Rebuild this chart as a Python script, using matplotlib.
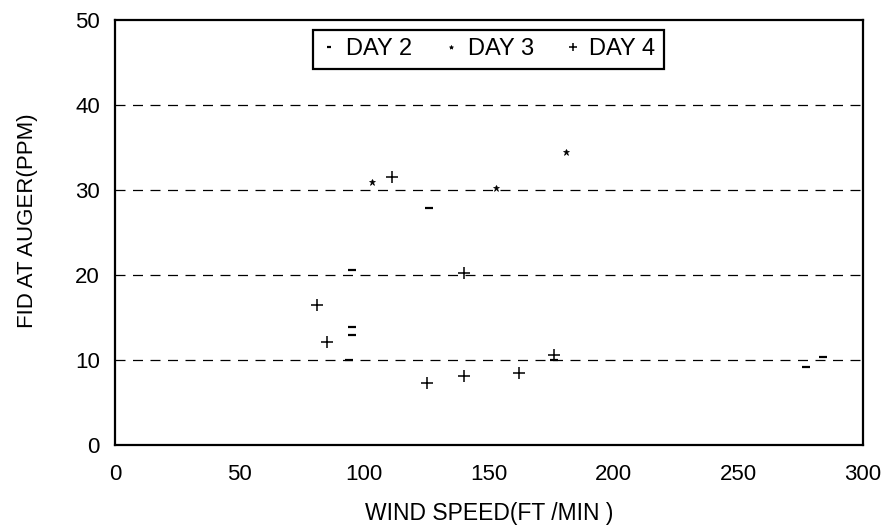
import matplotlib

matplotlib.use("Agg")
import matplotlib.pyplot as plt

# values
day2_x = [95, 95, 95, 126, 94, 176, 277, 284]
day2_y = [20.6, 13.9, 12.9, 27.9, 10.0, 10.0, 9.2, 10.4]
day3_x = [103, 153, 181]
day3_y = [31.0, 30.3, 34.5]
day4_x = [81, 85, 111, 125, 140, 140, 162, 176]
day4_y = [16.5, 12.1, 31.5, 7.3, 20.2, 8.1, 8.5, 10.6]

xticks = [0, 50, 100, 150, 200, 250, 300]
yticks = [0, 10, 20, 30, 40, 50]
gridlines = [10, 20, 30, 40]

plt.rcParams["font.family"] = ["Liberation Sans", "DejaVu Sans"]

fig = plt.figure(figsize=(8.85, 5.32), dpi=100)
ax = fig.add_axes([0.130, 0.1635, 0.845, 0.7985])

for g in gridlines:
    ax.axhline(g, color="black", lw=0.9, ls=(0, (8, 6)), zorder=1)

ax.plot(day2_x, day2_y, ls="none", marker="_", ms=6, mew=1.6, color="black", label="DAY 2")
ax.plot(day3_x, day3_y, ls="none", marker="*", ms=5, mew=0.5, color="black", label="DAY 3")
ax.plot(day4_x, day4_y, ls="none", marker="+", ms=9, mew=1.1, color="black", label="DAY 4")

ax.set_xlim(0, 300)
ax.set_ylim(0, 50)
ax.set_xticks(xticks)
ax.set_yticks(yticks)
ax.tick_params(axis="x", length=0, labelsize=16, pad=14)
ax.tick_params(axis="y", length=0, labelsize=16, pad=11)
for s in ax.spines.values():
    s.set_linewidth(1.6)

ax.set_xlabel("WIND SPEED(FT /MIN )", fontsize=16.5, labelpad=12)
ax.set_ylabel("FID AT AUGER(PPM)", fontsize=16)
ax.yaxis.set_label_coords(-0.103, 0.527)

leg = ax.legend(loc="upper center", bbox_to_anchor=(0.499, 0.977), ncol=3,
                fontsize=17, frameon=True, fancybox=False, handlelength=0.7,
                handletextpad=0.35, columnspacing=1.3, borderpad=0.35,
                borderaxespad=0, markerscale=0.6)
leg.get_frame().set_edgecolor("black")
leg.get_frame().set_linewidth(1.6)
leg.get_frame().set_alpha(1)

fig.savefig("out.png", dpi=100)
